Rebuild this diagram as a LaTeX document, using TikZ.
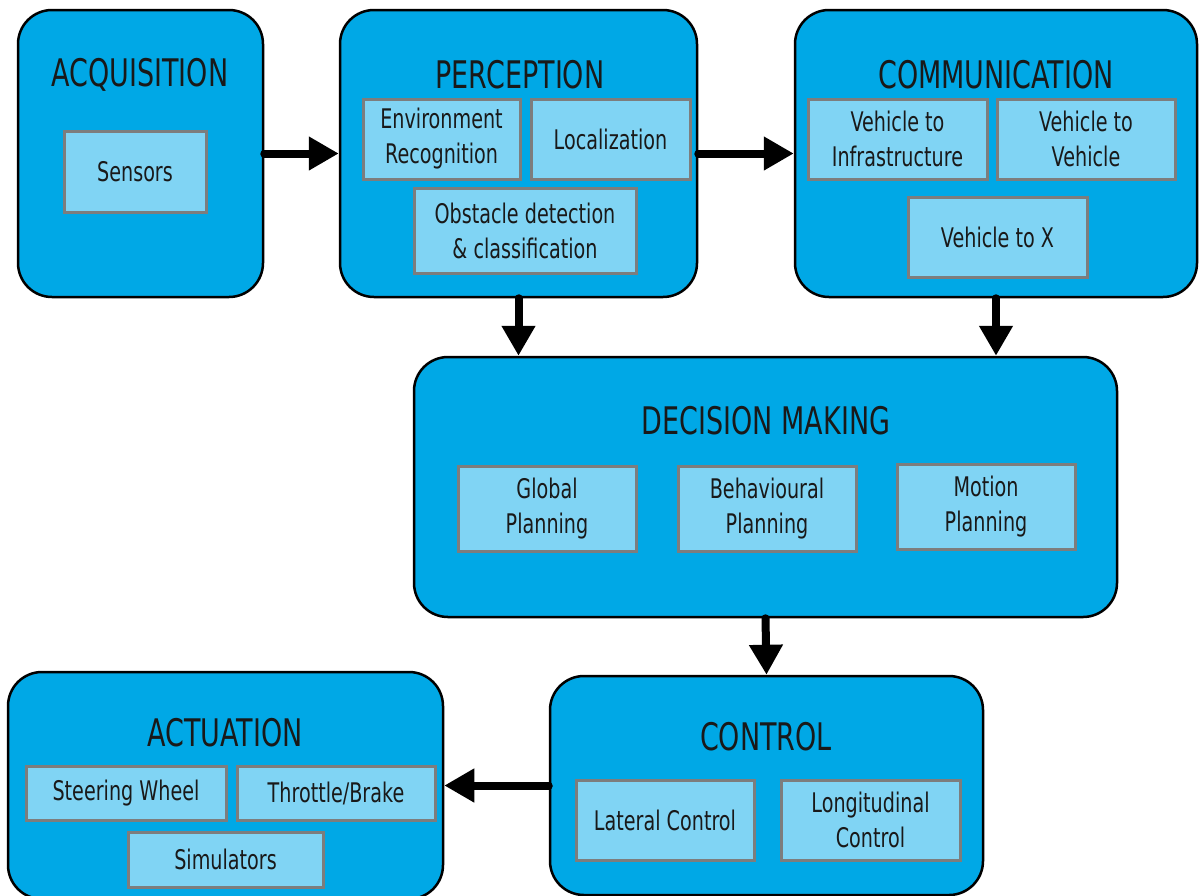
\documentclass[tikz,border=0pt]{standalone}
\usepackage{fontspec}
\setmainfont{DejaVu Sans}[FakeStretch=0.71]
\usetikzlibrary{arrows.meta}
\definecolor{stagefill}{RGB}{0,168,230}
\definecolor{taskfill}{RGB}{128,212,244}
\definecolor{taskline}{RGB}{125,125,125}
\tikzset{
  stagebox/.style={draw=black, line width=2.5pt, fill=stagefill, rounded corners=34pt, inner sep=0pt},
  taskbox/.style={draw=taskline, line width=3pt, fill=taskfill, inner sep=0pt, align=center,
    font=\fontsize{27}{35}\selectfont, text=black!90},
  stagetitle/.style={font=\fontsize{38}{44}\selectfont, text=black!90},
  flow/.style={line width=8pt, line cap=round, -{Triangle[width=32pt,length=30pt]}}
}
\begin{document}
\begin{tikzpicture}[x=1pt,y=-1pt]
\useasboundingbox (0,0) rectangle (1201,895);
\fill[white] (0,0) rectangle (1201,895);

% stages
\node[stagebox, minimum width=245pt, minimum height=287pt] (acq) at (140.5,153.5) {};
\node[stagebox, minimum width=357pt, minimum height=287pt] (perc) at (518.5,153.5) {};
\node[stagebox, minimum width=402pt, minimum height=287pt] (comm) at (996,153.5) {};
\node[stagebox, minimum width=703pt, minimum height=260pt] (dm) at (765.5,487) {};
\node[stagebox, minimum width=433pt, minimum height=219pt] (ctrl) at (766.5,785.5) {};
\node[stagebox, minimum width=435pt, minimum height=227pt] (act) at (225.5,785.5) {};

% stage titles
\node[stagetitle] (acqT) at (140,75) {ACQUISITION};
\node[stagetitle] (percT) at (520,75) {PERCEPTION};
\node[stagetitle] (commT) at (996,75) {COMMUNICATION};
\node[stagetitle] (dmT) at (766,421) {DECISION MAKING};
\node[stagetitle] (ctrlT) at (766,737) {CONTROL};
\node[stagetitle] (actT) at (225,733) {ACTUATION};

% tasks
\node[taskbox, minimum width=142pt, minimum height=81pt] (sens) at (135,171.5) {Sensors};
\node[taskbox, minimum width=157pt, minimum height=80pt] (env) at (441.5,139) {Environment\\Recognition};
\node[taskbox, minimum width=159pt, minimum height=80pt] (loc) at (610.5,139) {Localization};
\node[taskbox, minimum width=222pt, minimum height=85pt] (obs) at (525,230.5) {Obstacle detection\\\& classification};
\node[taskbox, minimum width=179pt, minimum height=80pt] (vti) at (897.5,139) {Vehicle to\\Infrastructure};
\node[taskbox, minimum width=178pt, minimum height=80pt] (vtv) at (1086,139) {Vehicle to\\Vehicle};
\node[taskbox, minimum width=179pt, minimum height=80pt] (vtx) at (997.5,237) {Vehicle to X};
\node[taskbox, minimum width=178pt, minimum height=85pt] (gp) at (547,508.5) {Global\\Planning};
\node[taskbox, minimum width=178pt, minimum height=85pt] (bp) at (767,508.5) {Behavioural\\Planning};
\node[taskbox, minimum width=178pt, minimum height=85pt] (mp) at (986,506.5) {Motion\\Planning};
\node[taskbox, minimum width=178pt, minimum height=80pt] (lat) at (665,820) {Lateral Control};
\node[taskbox, minimum width=179pt, minimum height=80pt] (lon) at (870.5,820) {Longitudinal\\Control};
\node[taskbox, minimum width=200pt, minimum height=54pt] (steer) at (126,793) {Steering Wheel};
\node[taskbox, minimum width=198pt, minimum height=54pt] (thr) at (336,793) {Throttle/Brake};
\node[taskbox, minimum width=195pt, minimum height=55pt] (sim) at (225.5,859.5) {Simulators};

% flow between stages
\draw[flow] (acq.east) -- (perc.west);
\draw[flow] (perc.east) -- (comm.west);
\draw[flow] (perc.south) -- (perc.south |- dm.north);
\draw[flow] (comm.south) -- (comm.south |- dm.north);
\draw[flow] (dm.south) -- (ctrl.north);
\draw[flow] (ctrl.west) -- (ctrl.west -| act.east);
\end{tikzpicture}
\end{document}
